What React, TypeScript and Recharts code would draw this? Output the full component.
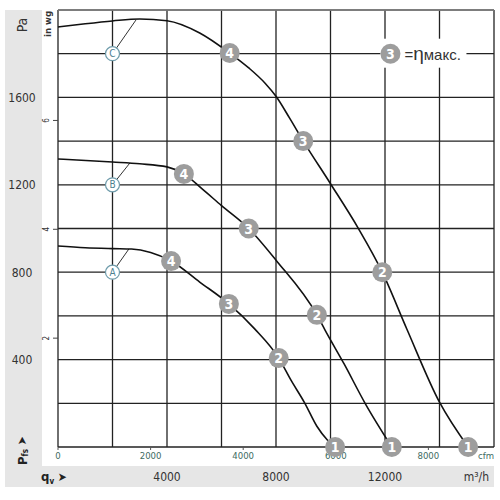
import {
  ComposedChart,
  Line,
  XAxis,
  YAxis,
  CartesianGrid,
  ReferenceLine,
  ReferenceDot,
} from "recharts";

// m³/h and Pa
const curveA = [
  { q: 0, p: 920 },
  { q: 1000, p: 912 },
  { q: 2000, p: 908 },
  { q: 2700, p: 906 },
  { q: 3400, p: 890 },
  { q: 4150, p: 851, m: 4 },
  { q: 5200, p: 755 },
  { q: 6270, p: 655, m: 3 },
  { q: 7200, p: 543 },
  { q: 8100, p: 407, m: 2 },
  { q: 8550, p: 306 },
  { q: 9060, p: 200 },
  { q: 9500, p: 95 },
  { q: 9900, p: 30 },
  { q: 10170, p: 0, m: 1 },
];

const curveB = [
  { q: 0, p: 1318 },
  { q: 2000, p: 1304 },
  { q: 3000, p: 1296 },
  { q: 4000, p: 1282 },
  { q: 4620, p: 1250, m: 4 },
  { q: 5300, p: 1180 },
  { q: 6000, p: 1105 },
  { q: 7000, p: 1000, m: 3 },
  { q: 8000, p: 855 },
  { q: 9500, p: 605, m: 2 },
  { q: 9800, p: 535 },
  { q: 10500, p: 380 },
  { q: 11270, p: 200 },
  { q: 12250, p: 0, m: 1 },
];

const curveC = [
  { q: 0, p: 1922 },
  { q: 1000, p: 1937 },
  { q: 2000, p: 1950 },
  { q: 3000, p: 1959 },
  { q: 4000, p: 1951 },
  { q: 5200, p: 1895 },
  { q: 6300, p: 1803, m: 4 },
  { q: 7000, p: 1735 },
  { q: 7600, p: 1665 },
  { q: 8000, p: 1605 },
  { q: 8500, p: 1505 },
  { q: 9000, p: 1400, m: 3 },
  { q: 10000, p: 1205 },
  { q: 11000, p: 1005 },
  { q: 11900, p: 800, m: 2 },
  { q: 12800, p: 540 },
  { q: 14000, p: 205 },
  { q: 15050, p: 0, m: 1 },
];

// curve tags A/B/C: circle position and where the leader touches the curve
const tags = [
  { name: "A", q: 2000, p: 800, q2: 2600, p2: 906 },
  { name: "B", q: 2000, p: 1200, q2: 2640, p2: 1300 },
  { name: "C", q: 2000, p: 1800, q2: 2860, p2: 1954 },
];

const qTicks = [0, 2000, 4000, 6000, 8000, 10000, 12000, 14000, 16000];
const qLabels = [4000, 8000, 12000];
const paTicks = [0, 200, 400, 600, 800, 1000, 1200, 1400, 1600, 1800, 2000];
const paLabels = [400, 800, 1200, 1600];
const inwgTicks = [2, 4, 6];
const cfmTicks = [0, 2000, 4000, 6000, 8000];

const Q_MAX = 16000;
const P_MAX = 2000;
const PA_PER_INWG = 249.09;
const M3H_PER_CFM = 1.699;

const narrow = "'Liberation Sans Narrow', 'DejaVu Sans Condensed', Arial, sans-serif";
const small = "#3d6b5f";

const marker = (props: any) => {
  const { cx, cy, payload, index } = props;
  if (!payload.m) return <g key={index} />;
  return (
    <g key={index}>
      <circle cx={cx} cy={cy} r={10} fill="#9d9d9d" />
      <text x={cx} y={cy + 5} textAnchor="middle" fill="#fff" fontSize={14} fontWeight="bold" fontFamily={narrow}>
        {payload.m}
      </text>
    </g>
  );
};

const PaTick = (props: any) => {
  const { x, y, payload } = props;
  if (!paLabels.includes(payload.value)) return <g />;
  return (
    <text x={x - 20} y={y + 4.5} textAnchor="middle" fill="#333" fontSize={12} fontFamily={narrow}>
      {payload.value}
    </text>
  );
};

const InwgTick = (props: any) => {
  const { x, y, payload } = props;
  return (
    <g>
      <line x1={x - 5} x2={x} y1={y} y2={y} stroke="#444" />
      <text x={x - 9} y={y} transform={`rotate(-90 ${x - 9} ${y})`} textAnchor="middle" fill="#333" fontSize={8} fontFamily={narrow}>
        {payload.value}
      </text>
    </g>
  );
};

const M3hTick = (props: any) => {
  const { x, y, payload } = props;
  if (payload.value === Q_MAX)
    return (
      <text x={x - 5} y={y + 34} textAnchor="end" fill="#333" fontSize={12} fontFamily={narrow}>
        m³/h
      </text>
    );
  if (!qLabels.includes(payload.value)) return <g />;
  return (
    <text x={x} y={y + 34} textAnchor="middle" fill="#333" fontSize={12} fontFamily={narrow}>
      {payload.value}
    </text>
  );
};

const cfmShape = (label: string, anchor: "middle" | "end", tick: boolean) => (props: any) => (
  <g>
    {tick && <line x1={props.cx} x2={props.cx} y1={props.cy} y2={props.cy + 3} stroke="#555" />}
    <text x={props.cx} y={props.cy + 12} textAnchor={anchor} fill={small} fontSize={9.5} fontFamily={narrow}>
      {label}
    </text>
  </g>
);

const tagShape = (name: string) => (props: any) => (
  <g>
    <circle cx={props.cx} cy={props.cy} r={7} fill="#fff" stroke="#6f9cab" strokeWidth={1.2} />
    <text x={props.cx} y={props.cy + 3.5} textAnchor="middle" fill="#4d7f8f" fontSize={10} fontFamily={narrow}>
      {name}
    </text>
  </g>
);

const legendShape = (props: any) => (
  <g>
    <rect x={props.cx - 10} y={props.cy - 15} width={86} height={29} fill="#fff" />
    <circle cx={props.cx} cy={props.cy} r={10} fill="#9d9d9d" />
    <text x={props.cx} y={props.cy + 5} textAnchor="middle" fill="#fff" fontSize={14} fontWeight="bold" fontFamily={narrow}>
      3
    </text>
    <text x={props.cx + 14} y={props.cy + 6} fill="#333" fontSize={15} fontFamily="'Liberation Sans', Arial, sans-serif">
      =<tspan fontSize={19}>η</tspan>макс.
    </text>
  </g>
);

export default function App() {
  const series = [curveA, curveB, curveC];
  return (
    <div style={{ position: "absolute", left: 0, top: 0, width: 500, height: 500, background: "#fff" }}>
      <svg width={500} height={500} style={{ position: "absolute", left: 0, top: 0 }}>
        <rect x={5} y={10} width={37} height={477} fill="#e6e6e6" />
        <rect x={5} y={466} width={489} height={21} fill="#e6e6e6" />
        <text x={22} y={25} transform="rotate(-90 22 25)" textAnchor="middle" dominantBaseline="central" fill="#333" fontSize={14} fontFamily={narrow}>
          Pa
        </text>
        <text x={47} y={24} transform="rotate(-90 47 24)" textAnchor="middle" dominantBaseline="central" fill="#333" fontSize={9.5} fontWeight="bold" fontFamily={narrow}>
          in wg
        </text>
        <text x={22} y={465} transform="rotate(-90 22 465)" dominantBaseline="central" fill="#222" fontSize={13} fontWeight="bold" fontFamily={narrow}>
          P<tspan fontSize={8} dy={3}>fs</tspan>
          <tspan dy={-3} fontSize={12}> ➤</tspan>
        </text>
        <text x={41} y={481} fill="#222" fontSize={13} fontWeight="bold" fontFamily={narrow}>
          q<tspan fontSize={8} dy={3}>v</tspan>
          <tspan dy={-3} fontSize={12}> ➤</tspan>
        </text>
      </svg>
      <div style={{ position: "absolute", left: 0, top: 0 }}>
        <ComposedChart width={500} height={500} margin={{ top: 10, right: 6, bottom: 13, left: 0 }}>
          <XAxis
            xAxisId="m3h"
            type="number"
            dataKey="q"
            orientation="bottom"
            domain={[0, Q_MAX]}
            ticks={qTicks}
            height={40}
            axisLine={false}
            tickLine={false}
            tickSize={0}
            tickMargin={0}
            tick={M3hTick}
            interval={0}
          />
          <YAxis
            yAxisId="inwg"
            type="number"
            domain={[0, P_MAX / PA_PER_INWG]}
            ticks={inwgTicks}
            allowDataOverflow
            width={16}
            axisLine={false}
            tickLine={false}
            tickSize={0}
            tickMargin={0}
            tick={InwgTick}
            interval={0}
          />
          <YAxis
            yAxisId="pa"
            type="number"
            dataKey="p"
            domain={[0, P_MAX]}
            ticks={paTicks}
            width={42}
            axisLine={false}
            tickLine={false}
            tickSize={0}
            tickMargin={0}
            tick={PaTick}
            interval={0}
          />
          <CartesianGrid xAxisId="m3h" yAxisId="pa" stroke="#222" strokeWidth={1.3} />
          <ReferenceLine xAxisId="m3h" yAxisId="pa" y={P_MAX} stroke="#8a8a8a" strokeWidth={1.5} />
          {cfmTicks.map((c) => (
            <ReferenceDot
              key={"cfm" + c}
              xAxisId="m3h"
              yAxisId="pa"
              x={c * M3H_PER_CFM}
              y={0}
              r={1}
              shape={cfmShape(String(c), "middle", true)}
            />
          ))}
          <ReferenceDot xAxisId="m3h" yAxisId="pa" x={Q_MAX} y={0} r={1} shape={cfmShape("cfm", "end", false)} />
          {tags.map((t) => (
            <ReferenceLine
              key={"l" + t.name}
              xAxisId="m3h"
              yAxisId="pa"
              segment={[
                { x: t.q, y: t.p },
                { x: t.q2, y: t.p2 },
              ]}
              stroke="#333"
              strokeWidth={1}
            />
          ))}
          {tags.map((t) => (
            <ReferenceDot key={"d" + t.name} xAxisId="m3h" yAxisId="pa" x={t.q} y={t.p} r={7} shape={tagShape(t.name)} />
          ))}
          <ReferenceDot xAxisId="m3h" yAxisId="pa" x={12200} y={1800} r={10} shape={legendShape} />
          {series.map((d, i) => (
            <Line
              key={i}
              xAxisId="m3h"
              yAxisId="pa"
              data={d}
              dataKey="p"
              type="monotone"
              stroke="#111"
              strokeWidth={1.6}
              dot={marker}
              activeDot={false}
              isAnimationActive={false}
            />
          ))}
        </ComposedChart>
      </div>
    </div>
  );
}
